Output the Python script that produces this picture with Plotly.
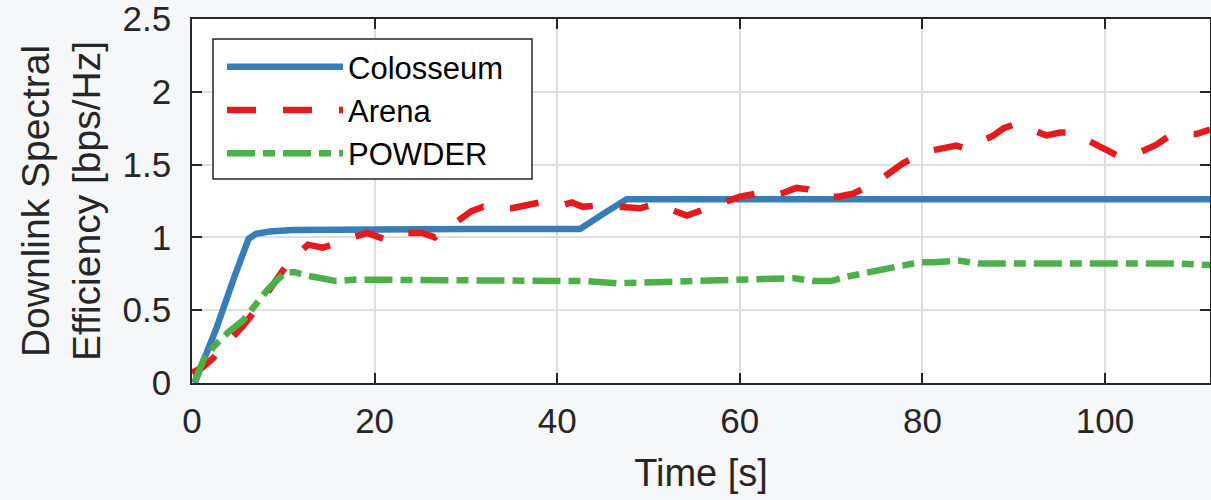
import plotly.graph_objects as go

# ---- data ----
col_t = [0.3, 0.9, 1.6, 2.7, 4.7, 5.4, 6.2, 7.0, 8.5, 11, 16, 22, 23, 30, 36, 42.5, 45, 47.6, 50,
         60, 70, 78, 81, 85, 88, 95, 105, 111.5]
col_v = [0.0, 0.09, 0.19, 0.38, 0.74, 0.87, 0.99, 1.025, 1.04, 1.05, 1.055, 1.055, 1.06, 1.058, 1.058,
         1.058, 1.16, 1.262, 1.262, 1.262, 1.262, 1.262, 1.27, 1.27, 1.262, 1.262, 1.262, 1.262]

arena_t = [0, 1.2, 2.3, 3.5, 4.7, 5.7, 6.7, 8.5, 10.2, 10.6, 12.7, 14.3, 15.9, 17.5, 19.2, 20.3, 21,
           22, 23.5, 25.2, 26.6, 27.9, 29.3, 30.6, 31.9, 33.4, 35, 36.7, 38.1, 39.5, 40.5, 41.6,
           42.8, 44.5, 46, 47.6, 49.1, 50.7, 52.5, 54.2, 56.9, 58.5, 60, 61.8, 62.9, 64.5, 66.2,
           67.5, 69, 70.7, 72.4, 75, 77.9, 80.5, 81.9, 83.7, 84.8, 86.3, 87.8, 88.9, 90.3, 92,
           93.6, 95.1, 96.5, 98, 99.6, 101.6, 102.4, 104, 105.6, 107.1, 108.2, 110, 111.5]
arena_v = [0.07, 0.11, 0.17, 0.25, 0.34, 0.40, 0.48, 0.64, 0.81, 0.83, 0.95, 0.93, 0.96, 1.0, 1.03,
           1.0, 0.99, 1.03, 1.03, 1.03, 1.0, 1.06, 1.12, 1.18, 1.21, 1.19, 1.2, 1.22, 1.24, 1.22,
           1.22, 1.24, 1.21, 1.22, 1.21, 1.20, 1.20, 1.23, 1.19, 1.15, 1.21, 1.25, 1.28, 1.30,
           1.28, 1.30, 1.34, 1.33, 1.28, 1.28, 1.30, 1.38, 1.51, 1.59, 1.61, 1.63, 1.61, 1.65,
           1.70, 1.75, 1.78, 1.74, 1.70, 1.72, 1.72, 1.67, 1.62, 1.555, 1.57, 1.59, 1.635, 1.70,
           1.71, 1.71, 1.74]

pow_t = [0.3, 1.4, 2.7, 4.0, 5.6, 6.9, 8.4, 10.2, 11.3, 12.4, 14.6, 15.8, 17.9, 20, 25, 30, 35, 40,
         43, 46.5, 49.4, 52.4, 56, 58.9, 62, 64.7, 66, 68, 70, 71.7, 74.6, 78.3, 79.7, 81.2, 84.1,
         86.3, 90, 95, 97.3, 100.9, 104.6, 108, 111.6]
pow_v = [0.01, 0.18, 0.27, 0.35, 0.43, 0.54, 0.65, 0.76, 0.76, 0.74, 0.71, 0.70, 0.71, 0.71, 0.71,
         0.70, 0.71, 0.71, 0.70, 0.685, 0.69, 0.70, 0.70, 0.71, 0.71, 0.71, 0.72, 0.70, 0.70, 0.73,
         0.765, 0.81, 0.83, 0.83, 0.84, 0.82, 0.82, 0.82, 0.83, 0.83, 0.82, 0.82, 0.81]

series_names = ["Colosseum", "Arena", "POWDER"]
x_ticks = [0, 20, 40, 60, 80, 100]
y_ticks = [0, 0.5, 1, 1.5, 2, 2.5]
y_tick_text = ["0", "0.5", "1", "1.5", "2", "2.5"]

FONT = "Liberation Sans, Arial, Helvetica, sans-serif"
AX = "#262626"

fig = go.Figure()
fig.add_trace(go.Scatter(x=col_t, y=col_v, mode="lines", name=series_names[0],
                         line=dict(color="#377eb8", width=6.5)))
fig.add_trace(go.Scatter(x=arena_t, y=arena_v, mode="lines", name=series_names[1],
                         line=dict(color="#e41a1c", width=6.5, dash="29px,27px")))
fig.add_trace(go.Scatter(x=pow_t, y=pow_v, mode="lines", name=series_names[2],
                         line=dict(color="#4daf4a", width=6.5, dash="28px,8px,12px,8px")))

axis_common = dict(
    showline=True, linecolor=AX, linewidth=1.5, mirror="ticks",
    ticks="inside", ticklen=10, tickwidth=1.5, tickcolor=AX,
    showgrid=True, gridcolor="#dedede", gridwidth=1.5, zeroline=False,
    tickfont=dict(family=FONT, size=35, color="#262626"),
    automargin=False, ticklabeloverflow="allow",
)

fig.update_xaxes(range=[0, 111.5], tickvals=x_ticks, ticklabelstandoff=6,
                 title=dict(text="Time [s]", font=dict(family=FONT, size=38, color="#262626"),
                            standoff=21),
                 **axis_common)
fig.update_yaxes(range=[0, 2.5], tickvals=y_ticks, ticktext=y_tick_text, ticklabelstandoff=12,
                 title=dict(text="Downlink Spectral<br>Efficiency [bps/Hz]",
                            font=dict(family=FONT, size=39, color="#262626"), standoff=10),
                 **axis_common)

# plot area spans page x 192..1210, y 19..383
W, H = 1211, 500
PL, PT, PW, PH = 192, 19, 1018, 364


def px(x):
    return (x - PL) / PW


def py(y):
    return (PT + PH - y) / PH


# legend frame (drawn behind the native legend entries)
fig.add_shape(type="rect", xref="paper", yref="paper",
              x0=px(213), x1=px(532), y0=py(179), y1=py(39),
              line=dict(color=AX, width=1.5), fillcolor="#ffffff", layer="above")

fig.update_layout(
    width=W, height=H,
    margin=dict(l=PL, r=W - PL - PW, t=PT, b=H - PT - PH),
    paper_bgcolor="#f6f7f9", plot_bgcolor="#ffffff",
    showlegend=True,
    legend=dict(x=px(222), y=py(40), xanchor="left", yanchor="top",
                bgcolor="rgba(0,0,0,0)", borderwidth=0,
                font=dict(family=FONT, size=31, color="#000000"),
                itemwidth=116, tracegroupgap=0),
)

fig.write_html("out.html",
               config={"displayModeBar": False},
               post_script="document.body.style.margin='0';document.body.style.overflow='hidden';")
